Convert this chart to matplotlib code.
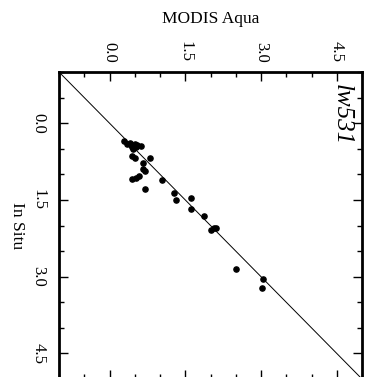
import numpy as np
import matplotlib
matplotlib.use('Agg')
import matplotlib.pyplot as plt
from matplotlib.ticker import MultipleLocator

plt.rcParams['font.family'] = ['Liberation Serif', 'DejaVu Serif']

# MODIS Aqua (horizontal) vs In Situ (vertical)
modis = [0.29, 0.35, 0.40, 0.42, 0.45, 0.50, 0.54, 0.62, 0.47, 0.52,
         0.45, 0.50, 0.81, 0.67, 0.67, 0.70, 0.58, 0.52, 0.44, 1.04,
         0.70, 1.27, 1.32, 1.62, 1.62, 1.87, 2.07, 2.00, 2.10, 2.51,
         3.04, 3.02]
insitu = [0.35, 0.41, 0.38, 0.43, 0.47, 0.41, 0.43, 0.45, 0.50, 0.47,
          0.65, 0.68, 0.69, 0.78, 0.89, 0.94, 1.04, 1.07, 1.10, 1.12,
          1.28, 1.37, 1.50, 1.46, 1.68, 1.82, 2.04, 2.08, 2.05, 2.85,
          3.05, 3.23]
ticks = [0.0, 1.5, 3.0, 4.5]
tick_labels = ['0.0', '1.5', '3.0', '4.5']
lims = [-1, 5]
label = 'lw531'

fig = plt.figure(figsize=(3.70, 3.77), dpi=100)
ax = fig.add_axes([59/370, -2/377, 303/370, 307/377])

# 1:1 line
ax.plot(lims, lims, color='black', lw=0.7)
ax.scatter(modis, insitu, s=14, color='black', zorder=3)

ax.set_xlim(lims)
ax.set_ylim(lims[1], lims[0])

ax.xaxis.set_label_position('top')
ax.set_xticks(ticks)
ax.set_xticklabels(tick_labels, rotation=-90)
ax.set_yticks(ticks)
ax.set_yticklabels(tick_labels, rotation=-90, va='center')
ax.xaxis.set_minor_locator(MultipleLocator(0.5))
ax.yaxis.set_minor_locator(MultipleLocator(0.5))
ax.tick_params(which='both', direction='in', top=True, bottom=True, left=True, right=True,
               labeltop=True, labelbottom=False, labelleft=True, labelright=False,
               width=1, labelsize=12)
ax.tick_params(which='major', length=6.5)
ax.tick_params(which='minor', length=3.6)
ax.tick_params(axis='x', which='major', pad=7)
ax.tick_params(axis='y', which='major', pad=9)

for sp in ax.spines.values():
    sp.set_linewidth(2)

ax.set_xlabel('MODIS Aqua', fontsize=12.5, labelpad=13)
ax.set_ylabel('In Situ', fontsize=12.5, rotation=-90, labelpad=10, va='center')

ax.text(4.6, -0.77, label, rotation=-90, style='italic', fontsize=18,
        ha='center', va='top')

fig.savefig('out.png', dpi=100)
